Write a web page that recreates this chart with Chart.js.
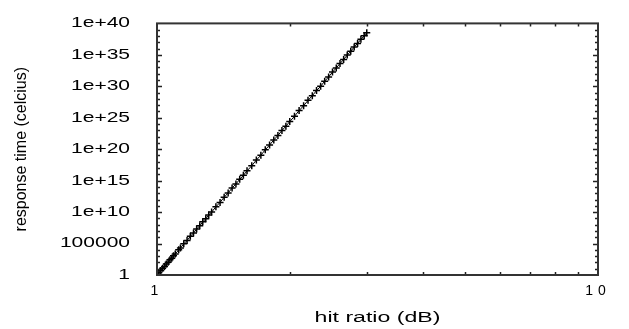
<!DOCTYPE html>
<html>
<head>
<meta charset="utf-8">
<script src="https://cdn.jsdelivr.net/npm/chart.js@4/dist/chart.umd.min.js"></script>
<style>
  html, body { margin: 0; padding: 0; background: #fff; }
</style>
</head>
<body>
<canvas id="chart" width="629" height="329"></canvas>
<script>
// Values
const hitRatio = [1.00, 1.01, 1.02, 1.03, 1.04, 1.05, 1.06, 1.07, 1.08, 1.09, 1.10, 1.12, 1.13, 1.15,
    1.17, 1.19, 1.21, 1.23, 1.25, 1.27, 1.29, 1.31, 1.33, 1.36, 1.39, 1.42, 1.45, 1.48, 1.51,
    1.54, 1.57, 1.60, 1.64, 1.68, 1.72, 1.76, 1.80, 1.84, 1.88, 1.92, 1.96, 2.00, 2.05, 2.10,
    2.15, 2.20, 2.25, 2.30, 2.35, 2.40, 2.45, 2.50, 2.55, 2.60, 2.65, 2.70, 2.75, 2.80, 2.85,
    2.90, 2.95, 2.99];
const responseTime = [1.3, 2.4, 5, 12, 22, 55, 110, 260, 480, 1.2e3, 2.1e3, 1e4, 1.9e4, 9e4,
    3e5, 1.4e6, 4.8e6, 2e7, 6.5e7, 2.8e8, 8.5e8, 3.4e9, 1e10, 7e10, 3.5e11, 2.4e12, 1.1e13, 6.8e13, 3e14,
    1.6e15, 7e15, 3.6e16, 2.3e17, 1.9e18, 1.1e19, 8e19, 4.5e20, 3e21, 1.5e22, 9.5e22, 4.5e23, 2.5e24, 1.7e25, 1.4e26,
    8e26, 5.8e27, 3.2e28, 2.1e29, 1e30, 6.6e30, 3.1e31, 1.8e32, 8e32, 4.3e33, 1.8e34, 9.3e34, 3.6e35, 1.8e36, 6.5e36,
    2.9e37, 1.05e38, 3.4e38];

const xTicks = [1, 10];
const xTickLabels = ['1', '10'];
const yTicks = [1, 1e5, 1e10, 1e15, 1e20, 1e25, 1e30, 1e35, 1e40];
const yTickLabels = ['1', '100000', '1e+10', '1e+15', '1e+20', '1e+25', '1e+30', '1e+35', '1e+40'];

const FONT = 'Liberation Sans, Arial, sans-serif';

// stretch text horizontally around a fixed x (the original's text is drawn wide)
function wrapStretched(scale, name, k, getX) {
    const orig = scale[name];
    scale[name] = function () {
        const c = this.ctx;
        const ax = getX(this);
        c.save();
        c.translate(ax, 0);
        c.scale(k, 1);
        c.translate(-ax, 0);
        orig.apply(this, arguments);
        c.restore();
    };
}

// Gnuplot style frame with inward tick marks
const framePlugin = {
    id: 'frame',
    beforeLayout(chart) {
        const {x, y} = chart.scales;
        if (x && !x._wrapped) {
            wrapStretched(x, 'drawTitle', 1.65, s => (s.left + s.right) / 2);
            const origLabels = x.drawLabels;
            x.drawLabels = function () {
                this.ctx.save();
                this.ctx.letterSpacing = '5px';
                origLabels.apply(this, arguments);
                this.ctx.restore();
            };
            x._wrapped = true;
        }
        if (y && !y._wrapped) {
            wrapStretched(y, 'drawLabels', 1.5, s => s.right - s.options.ticks.padding);
            y._wrapped = true;
        }
    },
    afterDraw(chart) {
        const {ctx, chartArea: a, scales: {x, y}} = chart;
        ctx.save();
        ctx.strokeStyle = '#222';
        ctx.lineWidth = 1.5;
        ctx.beginPath();
        // x minor ticks 2..9
        for (let v = 2; v <= 9; v++) {
            const px = Math.round(x.getPixelForValue(v)) + 0.5;
            ctx.moveTo(px, a.bottom); ctx.lineTo(px, a.bottom - 3);
            ctx.moveTo(px, a.top); ctx.lineTo(px, a.top + 3);
        }
        // y ticks every decade, longer every 5
        for (let e = 1; e < 40; e++) {
            const py = Math.round(y.getPixelForValue(Math.pow(10, e))) + 0.5;
            const len = e % 5 === 0 ? 5 : 3;
            ctx.moveTo(a.left, py); ctx.lineTo(a.left + len, py);
            ctx.moveTo(a.right, py); ctx.lineTo(a.right - len, py);
        }
        ctx.stroke();
        ctx.lineWidth = 2;
        ctx.strokeStyle = '#333';
        ctx.strokeRect(a.left, a.top, a.right - a.left, a.bottom - a.top);
        ctx.restore();
    }
};

const ctx = document.getElementById('chart').getContext('2d');

const chart = new Chart(ctx, {
    type: 'line',
    data: {
        datasets: [{
            data: hitRatio.map((h, i) => ({x: h, y: responseTime[i]})),
            borderColor: '#000',
            borderWidth: 1,
            pointStyle: 'cross',
            pointRadius: 3.5,
            pointBorderWidth: 1.5,
            pointBorderColor: '#000',
            tension: 0
        }]
    },
    options: {
        responsive: false,
        animation: false,
        events: [],
        layout: {padding: {left: 0, right: 31, top: 17, bottom: 0}},
        plugins: {legend: {display: false}, tooltip: {enabled: false}},
        scales: {
            x: {
                type: 'logarithmic',
                min: 1,
                max: 10,
                afterBuildTicks: s => { s.ticks = xTicks.map(v => ({value: v})); },
                afterFit: s => { s.height = 54; },
                grid: {display: false},
                border: {display: false},
                ticks: {
                    autoSkip: false,
                    maxRotation: 0,
                    padding: 0,
                    color: '#000',
                    font: {family: FONT, size: 14},
                    callback: (v, i) => xTickLabels[i]
                },
                title: {
                    display: true,
                    text: 'hit ratio (dB)',
                    color: '#000',
                    font: {family: FONT, size: 14},
                    padding: {top: 0, bottom: 2}
                }
            },
            y: {
                type: 'logarithmic',
                min: 1,
                max: 1e40,
                afterBuildTicks: s => { s.ticks = yTicks.map(v => ({value: v})); },
                afterFit: s => { s.width = 157; },
                grid: {display: false},
                border: {display: false},
                ticks: {
                    autoSkip: false,
                    padding: 15,
                    color: '#000',
                    font: {family: FONT, size: 14},
                    callback: (v, i) => yTickLabels[i]
                },
                title: {
                    display: true,
                    text: 'response time (celcius)',
                    color: '#000',
                    font: {family: FONT, size: 16},
                    padding: {top: 12, bottom: 0}
                }
            }
        }
    },
    plugins: [framePlugin]
});
</script>
</body>
</html>
